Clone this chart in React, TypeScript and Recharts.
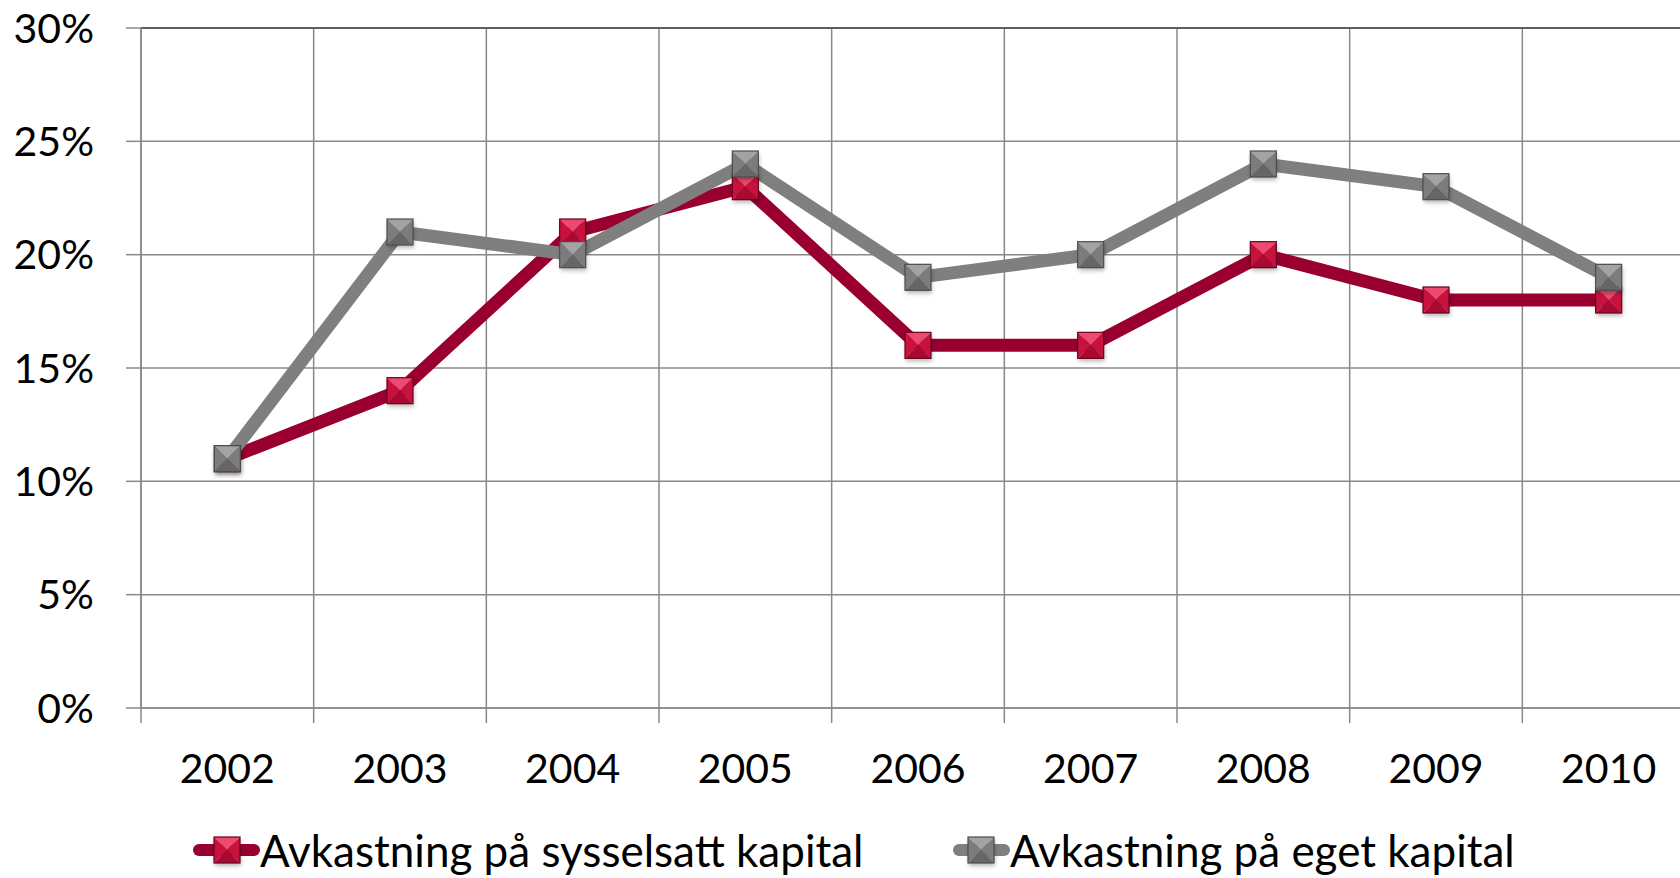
import React from "react";
import { CartesianGrid, Legend, Line, LineChart, ReferenceLine, XAxis, YAxis } from "recharts";

const YEARS = ["2002", "2003", "2004", "2005", "2006", "2007", "2008", "2009", "2010"];
const SYSSELSATT = [11, 14, 21, 23, 16, 16, 20, 18, 18];
const EGET = [11, 21, 20, 24, 19, 20, 24, 23, 19];
const Y_TICKS = [0, 5, 10, 15, 20, 25, 30];
const SERIES_NAMES = ["Avkastning på sysselsatt kapital", "Avkastning på eget kapital"];

const data = YEARS.map((year, i) => ({ year, sysselsatt: SYSSELSATT[i], eget: EGET[i] }));

const FONT = "Lato, 'Open Sans', sans-serif";
const FONT_SIZE = 41;
const LEGEND_FONT_SIZE = 44;
const GRID = "#888888";
const RED = "#990030";
const GREY = "#7f7f7f";

const RED_MARK = { top: "#ec4a6e", side: "#c8123e", bottom: "#a80a32", edge: "#6b0020" };
const GREY_MARK = { top: "#a3a3a3", side: "#7c7c7c", bottom: "#666666", edge: "#4d4d4d" };

const CHART_W = 1700;
const CHART_H = 878;
const MARGIN = { top: 28, right: 5, left: 0, bottom: 0 };
const Y_AXIS_W = 141;
const BAND = (CHART_W - Y_AXIS_W - MARGIN.right) / YEARS.length;

type Palette = typeof RED_MARK;

// bevelled square marker, like Excel's "pyramid" square
function BevelSquare({ cx, cy, palette, size = 26 }: { cx?: number; cy?: number; palette: Palette; size?: number }) {
  if (cx == null || cy == null) return null;
  const s = size / 2;
  const x0 = cx - s;
  const x1 = cx + s;
  const y0 = cy - s;
  const y1 = cy + s;
  return (
    <g>
      <rect x={x0 + 1} y={y0 + 3} width={size} height={size} fill="rgba(0,0,0,0.28)" filter="url(#mkShadow)" />
      <polygon points={`${x0},${y0} ${x1},${y0} ${cx},${cy}`} fill={palette.top} />
      <polygon points={`${x1},${y0} ${x1},${y1} ${cx},${cy}`} fill={palette.side} />
      <polygon points={`${x0},${y1} ${x1},${y1} ${cx},${cy}`} fill={palette.bottom} />
      <polygon points={`${x0},${y0} ${x0},${y1} ${cx},${cy}`} fill={palette.side} />
      <rect x={x0} y={y0} width={size} height={size} fill="none" stroke={palette.edge} strokeWidth={1.2} />
    </g>
  );
}

function YearTick({ x, y, payload }: any) {
  const left = x - BAND / 2;
  return (
    <g>
      <line x1={left} y1={y - 15} x2={left} y2={y} stroke={GRID} strokeWidth={1.5} />
      <text x={x} y={y} dy={60} textAnchor="middle" fill="#000" fontFamily={FONT} fontSize={FONT_SIZE}>
        {payload.value}
      </text>
    </g>
  );
}

function LegendIcon({ color, palette, width, mark }: { color: string; palette: Palette; width: number; mark: number }) {
  return (
    <svg width={width} height={32} style={{ display: "block", overflow: "visible" }}>
      <line x1={6} y1={16} x2={width - 6} y2={16} stroke={color} strokeWidth={12} strokeLinecap="round" />
      <BevelSquare cx={mark} cy={16} palette={palette} size={26} />
    </svg>
  );
}

const LEGEND_ITEMS = [
  { name: SERIES_NAMES[0], color: RED, palette: RED_MARK, left: 193, width: 67, mark: 34 },
  { name: SERIES_NAMES[1], color: GREY, palette: GREY_MARK, left: 953, width: 57, mark: 28 },
];

function renderLegend() {
  return (
    <div style={{ position: "relative", height: 56, width: 1680 }}>
      {LEGEND_ITEMS.map((it) => (
        <div
          key={it.name}
          style={{ position: "absolute", left: it.left, top: 0, height: 56, display: "flex", alignItems: "center" }}
        >
          <LegendIcon color={it.color} palette={it.palette} width={it.width} mark={it.mark} />
          <span
            style={{ fontFamily: FONT, fontSize: LEGEND_FONT_SIZE, color: "#000", whiteSpace: "nowrap", lineHeight: 1 }}
          >
            {it.name}
          </span>
        </div>
      ))}
    </div>
  );
}

export default function App() {
  return (
    <div style={{ position: "fixed", left: 0, top: 0, width: 1680, height: 878, overflow: "hidden", background: "#fff" }}>
      <LineChart width={CHART_W} height={CHART_H} data={data} margin={MARGIN}>
        <defs>
          <filter id="mkShadow" x="-50%" y="-50%" width="200%" height="200%">
            <feGaussianBlur stdDeviation="2" />
          </filter>
        </defs>
        <CartesianGrid
          stroke={GRID}
          strokeWidth={1.5}
          verticalCoordinatesGenerator={({ offset }: any) =>
            Array.from({ length: YEARS.length + 1 }, (_, i) => offset.left + (i * offset.width) / YEARS.length)
          }
        />
        <XAxis
          dataKey="year"
          scale="band"
          height={114}
          tickSize={15}
          tickMargin={0}
          tickLine={false}
          axisLine={{ stroke: GRID, strokeWidth: 1.5 }}
          tick={<YearTick />}
          interval={0}
        />
        <YAxis
          width={Y_AXIS_W}
          domain={[0, 30]}
          ticks={Y_TICKS}
          tickFormatter={(v) => `${v}%`}
          tickSize={15}
          tickMargin={32}
          tickLine={{ stroke: GRID, strokeWidth: 1.5 }}
          axisLine={{ stroke: GRID, strokeWidth: 1.5 }}
          tick={{ fill: "#000", fontSize: FONT_SIZE, fontFamily: FONT }}
          interval={0}
        />
        <ReferenceLine y={30} stroke="#5e5e5e" strokeWidth={2} />
        <Legend verticalAlign="bottom" height={56} content={renderLegend} wrapperStyle={{ left: 0, width: 1680 }} />
        <Line
          dataKey="sysselsatt"
          name={SERIES_NAMES[0]}
          stroke={RED}
          strokeWidth={13}
          strokeLinejoin="round"
          dot={(p: any) => <BevelSquare key={`r${p.index}`} cx={p.cx} cy={p.cy} palette={RED_MARK} />}
          activeDot={false}
          isAnimationActive={false}
        />
        <Line
          dataKey="eget"
          name={SERIES_NAMES[1]}
          stroke={GREY}
          strokeWidth={13}
          strokeLinejoin="round"
          dot={(p: any) => <BevelSquare key={`g${p.index}`} cx={p.cx} cy={p.cy} palette={GREY_MARK} />}
          activeDot={false}
          isAnimationActive={false}
        />
      </LineChart>
    </div>
  );
}
